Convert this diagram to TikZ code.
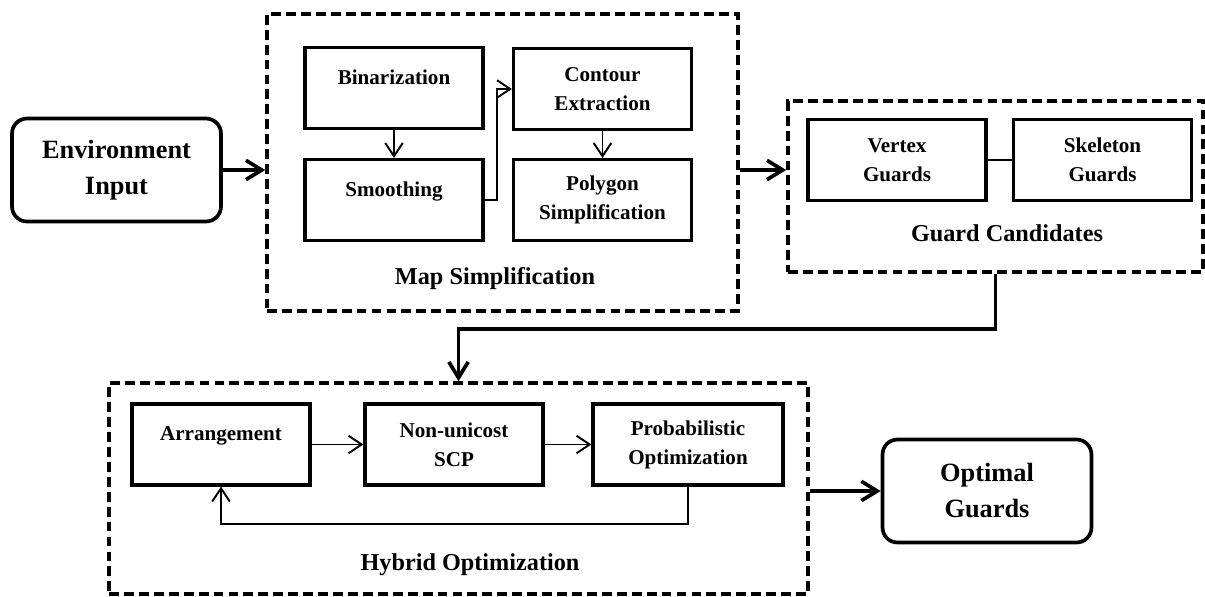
\documentclass[tikz,border=0pt]{standalone}
\usepackage{fontspec}
\setmainfont{Liberation Serif}
\usetikzlibrary{arrows.meta}

\begin{document}
\begin{tikzpicture}[x=0.02cm,y=-0.02cm,line join=miter,
  blk/.style={draw,line width=1.8pt,minimum width=3.56cm,minimum height=1.62cm,align=center,
    font=\fontsize{12}{16.5}\selectfont\bfseries},
  io/.style={draw,line width=2.1pt,rounded corners=0.3cm,minimum width=4.18cm,minimum height=2.06cm,align=center,
    font=\fontsize{15}{20.5}\selectfont\bfseries},
  grp/.style={draw,line width=2pt,dash pattern=on 5.6pt off 2.9pt},
  grplabel/.style={font=\fontsize{13.8}{16}\selectfont\bfseries},
  link/.style={line width=1.1pt,-{Straight Barb[length=7.5pt,width=10pt]}},
  flow/.style={line width=2.1pt,-{Straight Barb[length=9pt,width=11pt]}}]
\useasboundingbox (0,0) rectangle (1205,596);

\node[io] (env) at (116.5,170) {Environment\\Input};
\node[io] (opt) at (987,491) {Optimal\\Guards};

\node[grp,minimum width=9.42cm,minimum height=5.94cm] (map) at (502.5,162.5) {};
\node[grp,minimum width=8.3cm,minimum height=3.42cm] (guard) at (995.5,186.5) {};
\node[grp,minimum width=13.98cm,minimum height=4.22cm] (hybrid) at (458.5,488.5) {};

\node[blk] (bin) at (394,88) {Binarization\\[-4pt]\mbox{}};
\node[blk] (smooth) at (394,200) {Smoothing\\[-4pt]\mbox{}};
\node[blk] (contour) at (602.5,89) {Contour\\Extraction};
\node[blk] (poly) at (602.5,200) {Polygon\\Simplification};
\node[grplabel] at (495,279) {Map Simplification};

\node[blk] (vertex) at (897,160) {Vertex\\Guards};
\node[blk] (skel) at (1102.5,160) {Skeleton\\Guards};
\node[grplabel] at (1007,233) {Guard Candidates};

\node[blk] (arr) at (221,444.5) {Arrangement\\[-4pt]\mbox{}};
\node[blk] (scp) at (454,444.5) {Non-unicost\\SCP};
\node[blk,minimum width=3.8cm] (prob) at (688,444.5) {Probabilistic\\Optimization};
\node[grplabel] at (470,565) {Hybrid Optimization};

\draw[link] (bin) -- (smooth);
\draw[link] (contour) -- (poly);
\draw[link] (smooth.east) -- ++(12,0) |- (contour.west);
\draw[line width=1.1pt] (vertex) -- (skel);
\draw[link] (arr) -- (scp);
\draw[link] (scp) -- (prob);
\draw[link] (prob.south) -- ++(0,37) -| (arr.south);

\draw[flow] (env.east) -- (env.east -| map.west);
\draw[flow] (env.east -| map.east) -- (env.east -| guard.west);
\draw[flow] (guard.south) -- ++(0,55) -| (hybrid.north);
\draw[flow] (hybrid.east |- opt.west) -- (opt.west);
\end{tikzpicture}
\end{document}
